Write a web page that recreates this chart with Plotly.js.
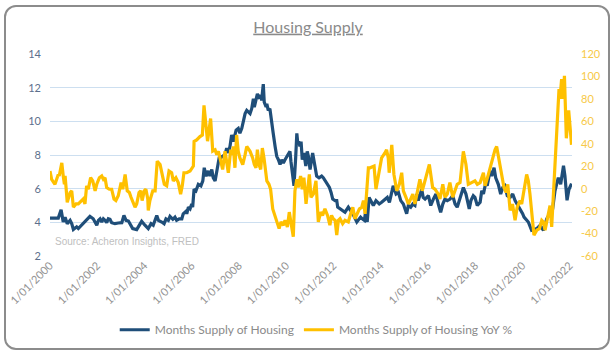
<!DOCTYPE html>
<html><head><meta charset="utf-8">
<script src="https://cdn.plot.ly/plotly-3.0.1.min.js"></script>
<style>
html,body{margin:0;padding:0;background:#fff;}
#wrap{position:relative;width:616px;height:356px;}
#chart{width:616px;height:356px;}
#frame{position:absolute;left:4px;top:5px;width:606px;height:345px;box-sizing:border-box;border:2px solid #8c8c8c;border-radius:12px;pointer-events:none;}
</style></head><body>
<div id="wrap"><div id="chart"></div><div id="frame"></div></div>
<script>
// ---- Data (decimal year, value) ----
const supplyDates = [
2000.00,2000.35,2000.47,2000.56,2000.64,2000.73,2000.85,2000.92,2000.99,2001.13,
2001.20,2001.34,2001.48,2001.62,2001.69,2001.83,2001.98,2002.05,2002.12,2002.19,
2002.26,2002.33,2002.40,2002.47,2002.54,2002.61,2002.75,2002.89,2003.04,2003.13,
2003.22,2003.32,2003.39,2003.50,2003.67,2003.78,2003.88,2004.02,2004.16,2004.28,
2004.37,2004.52,2004.59,2004.73,2004.83,2004.91,2005.01,2005.08,2005.20,2005.29,
2005.36,2005.47,2005.58,2005.64,2005.75,2005.79,2005.86,2005.93,2006.00,2006.04,
2006.10,2006.18,2006.28,2006.39,2006.47,2006.53,2006.61,2006.70,2006.77,2006.85,
2006.91,2006.99,2007.06,2007.16,2007.20,2007.31,2007.41,2007.48,2007.55,2007.62,
2007.69,2007.76,2007.88,2007.97,2008.04,2008.12,2008.18,2008.26,2008.33,2008.40,
2008.47,2008.54,2008.61,2008.65,2008.72,2008.78,2008.85,2008.92,2008.96,2009.03,
2009.07,2009.15,2009.18,2009.24,2009.31,2009.39,2009.45,2009.53,2009.60,2009.67,
2009.74,2009.81,2009.88,2009.95,2010.02,2010.09,2010.16,2010.20,2010.26,2010.33,
2010.40,2010.45,2010.49,2010.54,2010.58,2010.63,2010.68,2010.75,2010.83,2010.89,
2010.94,2011.01,2011.12,2011.22,2011.29,2011.39,2011.50,2011.57,2011.72,2011.83,
2011.90,2011.97,2012.07,2012.14,2012.18,2012.28,2012.39,2012.49,2012.63,2012.73,
2012.82,2012.99,2013.05,2013.15,2013.22,2013.31,2013.37,2013.43,2013.51,2013.69,
2013.80,2013.94,2014.04,2014.18,2014.28,2014.37,2014.47,2014.53,2014.65,2014.75,
2014.85,2014.96,2015.10,2015.17,2015.27,2015.36,2015.45,2015.53,2015.59,2015.74,
2015.80,2015.88,2016.02,2016.12,2016.23,2016.34,2016.44,2016.54,2016.63,2016.72,
2016.82,2016.94,2017.05,2017.15,2017.24,2017.36,2017.50,2017.61,2017.75,2017.82,
2017.92,2017.99,2018.09,2018.21,2018.28,2018.35,2018.45,2018.51,2018.63,2018.70,
2018.80,2018.87,2018.98,2019.08,2019.17,2019.26,2019.36,2019.48,2019.59,2019.69,
2019.78,2019.90,2020.01,2020.07,2020.25,2020.39,2020.61,2020.75,2020.89,2021.03,
2021.17,2021.28,2021.38,2021.52,2021.62,2021.74,2021.80,2021.89,2021.97,2022.08
];
const supplyMonths = [
4.25,4.25,4.74,4.02,4.31,3.92,4.12,3.92,3.57,3.73,
3.63,3.83,4.02,4.21,4.35,4.21,3.83,4.12,4.21,4.02,
4.21,4.12,3.98,4.21,4.18,3.98,3.92,3.96,3.98,4.41,
4.12,4.08,3.92,3.63,3.57,3.83,4.06,3.83,3.63,3.92,
3.83,4.41,4.12,4.02,3.92,4.21,4.12,4.35,4.18,4.31,
4.12,4.21,4.21,4.51,4.65,4.51,4.90,4.80,5.09,4.90,
5.97,5.87,6.26,6.17,6.46,7.24,6.75,7.05,6.75,7.14,
6.65,6.46,6.95,7.82,7.82,7.92,8.02,8.41,8.12,8.51,
9.19,8.80,9.48,9.58,9.29,9.58,9.97,10.46,10.65,10.56,
10.46,10.75,11.34,10.85,11.24,11.63,11.44,11.53,11.24,12.21,
11.14,10.85,11.04,10.65,10.75,10.07,9.29,8.51,7.92,7.72,
7.43,7.72,7.53,7.72,7.92,8.12,8.22,7.63,6.95,6.17,
7.82,9.29,8.70,8.80,8.51,8.80,7.72,8.12,7.34,8.22,
7.92,7.14,8.12,7.24,6.75,6.65,6.75,6.65,6.36,6.07,
5.78,5.38,5.29,5.29,4.90,4.80,4.70,4.60,4.90,4.70,
4.51,4.02,4.12,4.31,4.21,4.12,4.70,4.02,5.48,5.00,
5.29,5.09,5.19,5.38,5.48,5.19,5.87,6.17,5.68,5.78,
5.29,5.09,4.51,5.00,4.90,5.09,5.00,5.68,5.29,5.97,
5.48,5.38,5.58,5.00,5.38,5.68,5.09,4.60,5.09,5.38,
5.29,5.38,5.58,5.09,4.90,5.48,6.07,5.68,4.80,5.29,
5.58,5.48,5.00,5.19,5.87,5.68,6.36,6.17,7.05,6.75,
7.24,6.65,6.26,5.68,6.07,6.17,5.58,5.48,5.68,5.29,
5.09,4.80,4.51,4.31,4.02,3.53,3.63,3.83,3.53,4.21,
4.51,4.80,5.87,6.65,6.26,7.36,6.77,5.31,5.95,6.30
];
const yoyDates = [
2000.00,2000.07,2000.21,2000.35,2000.39,2000.50,2000.56,2000.61,2000.64,2000.73,
2000.85,2000.92,2000.99,2001.10,2001.20,2001.34,2001.41,2001.48,2001.55,2001.62,
2001.72,2001.81,2001.91,2001.98,2002.09,2002.19,2002.26,2002.33,2002.40,2002.51,
2002.61,2002.71,2002.79,2002.89,2002.96,2003.01,2003.08,2003.18,2003.27,2003.36,
2003.43,2003.53,2003.60,2003.67,2003.77,2003.84,2003.90,2003.99,2004.06,2004.14,
2004.16,2004.23,2004.35,2004.45,2004.54,2004.66,2004.77,2004.84,2004.94,2005.04,
2005.15,2005.22,2005.33,2005.43,2005.53,2005.60,2005.67,2005.79,2005.93,2006.00,
2006.07,2006.10,2006.21,2006.35,2006.45,2006.52,2006.67,2006.80,2006.89,2006.99,
2007.06,2007.13,2007.20,2007.31,2007.41,2007.48,2007.55,2007.65,2007.72,2007.76,
2007.83,2007.90,2007.97,2008.04,2008.16,2008.26,2008.33,2008.47,2008.58,2008.65,
2008.72,2008.78,2008.85,2008.92,2008.99,2009.06,2009.13,2009.18,2009.27,2009.34,
2009.43,2009.53,2009.60,2009.70,2009.78,2009.88,2009.95,2010.05,2010.13,2010.20,
2010.30,2010.37,2010.45,2010.51,2010.61,2010.68,2010.75,2010.84,2010.89,2010.94,
2010.98,2011.05,2011.15,2011.26,2011.36,2011.46,2011.54,2011.64,2011.75,2011.85,
2011.92,2011.99,2012.07,2012.14,2012.21,2012.28,2012.39,2012.49,2012.63,2012.73,
2012.82,2012.91,2012.99,2013.10,2013.20,2013.27,2013.34,2013.42,2013.48,2013.55,
2013.72,2013.80,2013.90,2014.04,2014.18,2014.25,2014.32,2014.36,2014.47,2014.56,
2014.68,2014.79,2014.89,2014.96,2015.07,2015.17,2015.24,2015.36,2015.45,2015.59,
2015.66,2015.76,2015.88,2016.06,2016.20,2016.30,2016.44,2016.51,2016.63,2016.72,
2016.82,2016.93,2017.05,2017.24,2017.36,2017.50,2017.61,2017.71,2017.85,2017.99,
2018.09,2018.21,2018.35,2018.42,2018.56,2018.70,2018.84,2018.91,2019.01,2019.12,
2019.22,2019.31,2019.38,2019.48,2019.58,2019.69,2019.78,2019.90,2019.97,2020.18,
2020.25,2020.32,2020.39,2020.44,2020.49,2020.61,2020.72,2020.82,2020.89,2020.96,
2021.10,2021.17,2021.24,2021.31,2021.45,2021.55,2021.59,2021.66,2021.73,2021.78,
2021.86,2021.96,2022.08
];
const yoyPercent = [
15.7,8.3,3.9,12.7,11.3,23.0,11.3,3.9,11.3,-12.1,
-3.4,-1.9,-16.5,-13.6,-13.6,-10.6,-9.2,-13.6,2.5,-0.5,
9.8,6.9,-1.9,3.9,9.8,11.3,8.3,9.8,1.0,-0.5,
-0.5,-9.2,-10.6,-6.3,-0.5,5.4,-0.5,12.7,-1.9,-3.4,
-7.7,-13.6,-16.5,-13.6,-3.4,-1.9,-10.6,-1.9,-0.5,-9.2,
-19.4,-10.6,-1.9,-1.9,24.5,21.5,11.3,3.9,2.5,15.7,
14.2,6.9,9.8,5.4,-4.9,2.5,14.2,14.2,15.7,18.6,
20.1,42.0,43.4,46.4,47.8,74.2,42.3,62.5,33.5,34.7,
30.3,33.3,27.4,17.1,33.3,24.5,14.2,34.7,30.3,37.6,
18.6,47.8,33.3,27.4,21.5,30.3,37.6,33.3,27.4,21.5,
18.6,34.7,21.5,17.1,36.2,27.4,17.1,6.9,3.9,-0.5,
-18.0,-25.3,-28.2,-35.6,-29.7,-32.6,-28.2,-34.1,-20.9,-31.2,
-42.9,-1.9,8.3,1.0,11.3,-0.5,9.8,-13.6,-1.9,9.8,
12.7,-7.7,-4.9,6.9,-29.7,-20.9,-23.8,-18.0,-23.8,-32.6,
-23.8,-26.8,-28.2,-41.4,-28.2,-26.8,-31.2,-28.2,-29.7,-22.4,
-16.5,-26.8,-22.4,-18.0,-16.5,-10.6,-22.4,-1.9,18.6,18.6,
20.1,-0.5,12.7,27.4,31.8,34.7,27.4,14.2,39.0,12.7,
-1.9,3.9,14.2,-1.9,-7.7,-13.6,-10.6,-4.9,-13.6,-0.5,
8.3,-1.9,8.3,21.5,1.0,-0.5,-4.9,-9.2,3.9,-7.7,
-4.9,5.4,-7.7,3.9,5.4,33.3,21.5,3.9,5.4,6.9,
3.9,5.4,14.2,2.5,12.7,24.5,34.7,37.6,25.9,12.7,
1.0,-3.4,3.9,-19.4,-13.6,-28.2,-16.5,-10.6,-13.6,12.7,
6.9,-4.9,-19.4,-25.3,-41.4,-37.0,-35.6,-28.2,-29.7,-37.0,
-22.4,-15.0,-34.1,-7.7,42.0,88.8,80.1,97.6,80.1,100.5,
44.9,69.8,39.0
];
const xTickYears = [2000,2002,2004,2006,2008,2010,2012,2014,2016,2018,2020,2022];
const xTickLabels = ["1/01/2000","1/01/2002","1/01/2004","1/01/2006","1/01/2008","1/01/2010",
                     "1/01/2012","1/01/2014","1/01/2016","1/01/2018","1/01/2020","1/01/2022"];
const rightTickVals = [-60,-40,-20,0,20,40,60,80,100,120];
const rightTickText = ["-60","-40","-20","0","20","40","60","80","100","120"];
const seriesNames = ["Months Supply of Housing","Months Supply of Housing YoY %"];

const traces = [
  {x: supplyDates, y: supplyMonths, name: seriesNames[0], type:'scatter', mode:'lines',
   line:{color:'#1f4e79', width:3.2}, yaxis:'y'},
  {x: yoyDates, y: yoyPercent, name: seriesNames[1], type:'scatter', mode:'lines',
   line:{color:'#ffc000', width:3.2}, yaxis:'y2'}
];

const layout = {
  width:616, height:356,
  margin:{l:50, r:44, t:54, b:96},
  paper_bgcolor:'#ffffff', plot_bgcolor:'#ffffff',
  font:{family:'Lato, "Open Sans", sans-serif', color:'#808080'},
  title:{text:'<u>Housing Supply</u>', font:{size:16, color:'#8a8a8a', family:'Lato, sans-serif'},
         x:0.5, xref:'container', xanchor:'center', y:0.924, yref:'container', yanchor:'middle'},
  xaxis:{type:'linear', range:[2000, 2022.1], tickvals:xTickYears, ticktext:xTickLabels,
         tickangle:-45, showgrid:false, zeroline:false, showline:false, ticks:'',
         tickfont:{size:11, color:'#929292'}},
  yaxis:{range:[2,14], tick0:2, dtick:2, gridcolor:'#cddff0', gridwidth:1, zeroline:false,
         showline:false, ticks:'', ticklabelstandoff:8, tickfont:{size:11, color:'#5c6f8c'}},
  yaxis2:{overlaying:'y', side:'right', range:[-60,120], tickvals:rightTickVals, ticktext:rightTickText,
          showgrid:false, zeroline:false, showline:false, ticks:'', ticklabelstandoff:8,
          tickfont:{size:11, color:'#f7c948'}},
  legend:{orientation:'h', x:0.51, xanchor:'center', y:-0.365, yanchor:'middle',
          font:{size:12, color:'#8a8a8a'}, bgcolor:'rgba(0,0,0,0)'},
  annotations:[{xref:'paper', yref:'paper', x:0.006, y:0.07, xanchor:'left', yanchor:'middle',
    text:'Source: Acheron Insights, FRED', showarrow:false,
    font:{family:'"Liberation Sans", Arial, sans-serif', size:10, color:'#c0c0c0'}}],
  showlegend:true
};

Plotly.newPlot('chart', traces, layout, {displayModeBar:false, staticPlot:true});
</script></body></html>
